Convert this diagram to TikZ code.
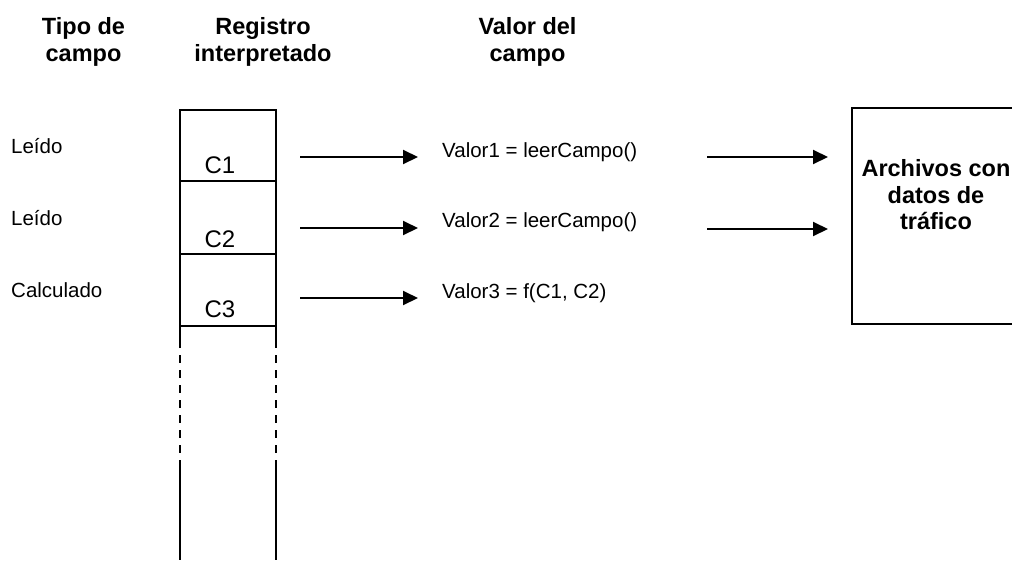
\documentclass[tikz,border=0pt]{standalone}
\usepackage{fontspec}
\setmainfont{Liberation Sans}
\usetikzlibrary{arrows.meta}
\begin{document}
\begin{tikzpicture}[x=1pt,y=-1pt,
  hd/.style={font=\fontsize{23.5}{27}\selectfont\bfseries,align=center,inner sep=0pt},
  lbl/.style={font=\fontsize{20.5}{24}\selectfont,anchor=base west,inner sep=0pt},
  cell/.style={font=\fontsize{24}{28}\selectfont,inner sep=0pt},
  ln/.style={line width=1.3pt},
  arr/.style={line width=2pt,-{Triangle[length=15pt,width=14pt]}}]
\clip (0,0) rectangle (1012,560);
\fill[white] (0,0) rectangle (1012,560);
% headings
\node[hd] (h1) at (83.5,42) {Tipo de\\campo};
\node[hd] (h2) at (263,42) {Registro\\interpretado};
\node[hd] (h3) at (527.5,42) {Valor del\\campo};
% left labels
\node[lbl] (t1) at (11,153) {Leído};
\node[lbl] (t2) at (11,225) {Leído};
\node[lbl] (t3) at (11,297) {Calculado};
% register column
\draw[ln] (180,348) -- (180,110) -- (276,110) -- (276,348);
\draw[ln] (180,181) -- (276,181);
\draw[ln] (180,254) -- (276,254);
\draw[ln] (180,326) -- (276,326);
\draw[ln,dash pattern=on 8pt off 7pt] (180,355) -- (180,462);
\draw[ln,dash pattern=on 8pt off 7pt] (276,355) -- (276,462);
\draw[ln] (180,462) -- (180,560);
\draw[ln] (276,462) -- (276,560);
\node[cell] (c1) at (220,165) {C1};
\node[cell] (c2) at (220,239) {C2};
\node[cell] (c3) at (220,309.5) {C3};
% arrow anchors
\coordinate (a1s) at (300,157); \coordinate (a1e) at (418,157);
\coordinate (a2s) at (300,228); \coordinate (a2e) at (418,228);
\coordinate (a3s) at (300,298); \coordinate (a3e) at (418,298);
\draw[arr] (a1s) -- (a1e);
\draw[arr] (a2s) -- (a2e);
\draw[arr] (a3s) -- (a3e);
% values
\node[lbl] (v1) at (442,157) {Valor1 = leerCampo()};
\node[lbl] (v2) at (442,227) {Valor2 = leerCampo()};
\node[lbl] (v3) at (442,298) {Valor3 = f(C1, C2)};
% right arrows
\coordinate (b1s) at (707,157); \coordinate (b1e) at (828,157);
\coordinate (b2s) at (707,229); \coordinate (b2e) at (828,229);
\draw[arr] (b1s) -- (b1e);
\draw[arr] (b2s) -- (b2e);
% files box
\draw[ln] (1030,108) -- (852,108) -- (852,324) -- (1030,324);
\node[hd,font=\fontsize{23.5}{26.5}\selectfont\bfseries] (files) at (936,195) {Archivos con\\datos de\\tráfico};
\end{tikzpicture}
\end{document}
